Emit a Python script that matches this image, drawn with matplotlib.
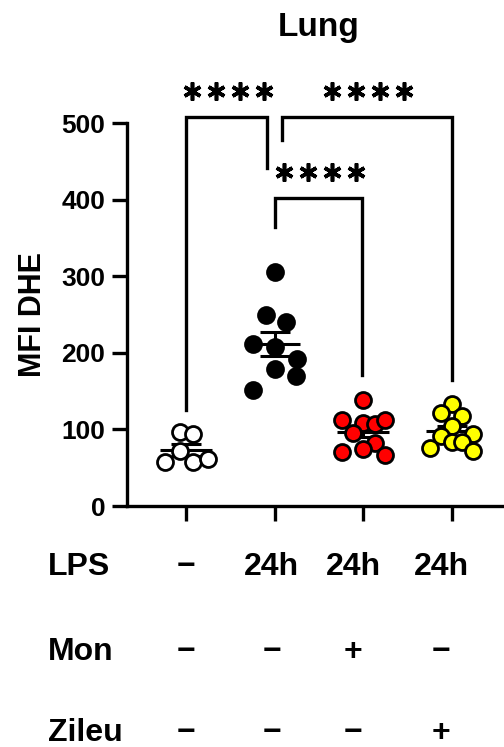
import numpy as np
import matplotlib.pyplot as plt

plt.rcParams['font.family'] = ['Liberation Sans', 'DejaVu Sans']
plt.rcParams['font.weight'] = 'bold'

# values (MFI DHE, lung)
ctrl = [96, 94, 58, 72, 57, 62]
lps = [305, 250, 240, 212, 207, 192, 179, 170, 152]
lps_mon = [139, 112, 108, 107, 112, 95, 82, 71, 75, 67]
lps_zileu = [133, 122, 117, 105, 92, 94, 76, 84, 84, 72]

# small horizontal offsets of the dots inside each column (beeswarm look)
ctrl_dx = [-0.07, 0.08, -0.24, -0.07, 0.08, 0.25]
lps_dx = [0.0, -0.1, 0.13, -0.24, 0.0, 0.25, 0.0, 0.24, -0.24]
mon_dx = [0.0, -0.24, 0.0, 0.13, 0.25, -0.12, 0.13, -0.24, 0.0, 0.25]
zil_dx = [0.0, -0.12, 0.12, 0.0, -0.12, 0.24, -0.25, 0.0, 0.12, 0.24]

groups = [ctrl, lps, lps_mon, lps_zileu]
offsets = [ctrl_dx, lps_dx, mon_dx, zil_dx]
face = ['white', 'black', '#ff0000', '#ffff00']

row_names = ['LPS', 'Mon', 'Zileu']
row_vals = [['−', '24h', '24h', '24h'],
            ['−', '−', '+', '−'],
            ['−', '−', '−', '+']]

# significance brackets: (x1, x2, top, left leg end, right leg end, n stars)
brackets = [(0, 0.92, 508, 125, 441, 4),
            (1.08, 3.0, 508, 478, 164, 4),
            (1.0, 1.99, 402, 364, 171, 4)]

fig = plt.figure(figsize=(5.04, 7.47), dpi=100)
ax = fig.add_axes([0.252, 0.3226, 0.748, 0.5127])

for k, vals in enumerate(groups):
    vals = np.array(vals, dtype=float)
    xs = k + np.array(offsets[k])
    m = vals.mean()
    sem = vals.std(ddof=1) / np.sqrt(len(vals))
    ax.hlines(m, k - 0.29, k + 0.29, color='black', lw=2.2, zorder=2)
    ax.hlines([m - sem, m + sem], k - 0.17, k + 0.17, color='black', lw=2.2, zorder=2)
    ax.vlines(k, m - sem, m + sem, color='black', lw=2.2, zorder=2)
    ax.plot(xs, vals, 'o', ms=11.5, mfc=face[k], mec='black', mew=2.0,
            ls='none', zorder=3)

for x1, x2, top, l_end, r_end, n in brackets:
    ax.plot([x1, x1, x2, x2], [l_end, top, top, r_end], color='black',
            lw=2.4, clip_on=False, solid_joinstyle='miter', zorder=1)
    mid = (x1 + x2) / 2 + 0.015
    sx = mid + (np.arange(n) - (n - 1) / 2) * 0.271
    ax.plot(sx, np.full(n, top + 34), ls='none', marker=(6, 2, 0), ms=13,
            mew=2.6, color='black', clip_on=False)

ax.set_xlim(-0.666, 3.59)
ax.set_ylim(0, 500)
ax.set_yticks([0, 100, 200, 300, 400, 500])
ax.set_xticks([0, 1, 2, 3])
ax.set_xticklabels([])
ax.spines['top'].set_visible(False)
ax.spines['right'].set_visible(False)
ax.spines['left'].set_linewidth(2.4)
ax.spines['bottom'].set_linewidth(2.4)
ax.tick_params(axis='both', length=10.5, width=2.4, direction='out')
ax.tick_params(axis='y', labelsize=19, pad=5)
ax.set_ylabel('MFI DHE', fontsize=22, fontweight='bold', labelpad=10)

fig.text(0.633, 0.963, 'Lung', ha='center', va='center', fontsize=24,
         fontweight='bold')

# treatment table under the axis
col_x = [0, 0.97, 1.89, 2.88]
row_y = [0.2414, 0.1276, 0.0183]
tr = ax.get_xaxis_transform()
for r, name in enumerate(row_names):
    fig.text(0.095, row_y[r], name, ha='left', va='center', fontsize=23,
             fontweight='bold')
    for c, v in enumerate(row_vals[r]):
        y_ax = (row_y[r] - 0.3226) / 0.5127
        ax.text(col_x[c], y_ax, v, transform=tr, ha='center', va='center',
                fontsize=23, fontweight='bold', clip_on=False)

fig.savefig('out.png', dpi=100)
